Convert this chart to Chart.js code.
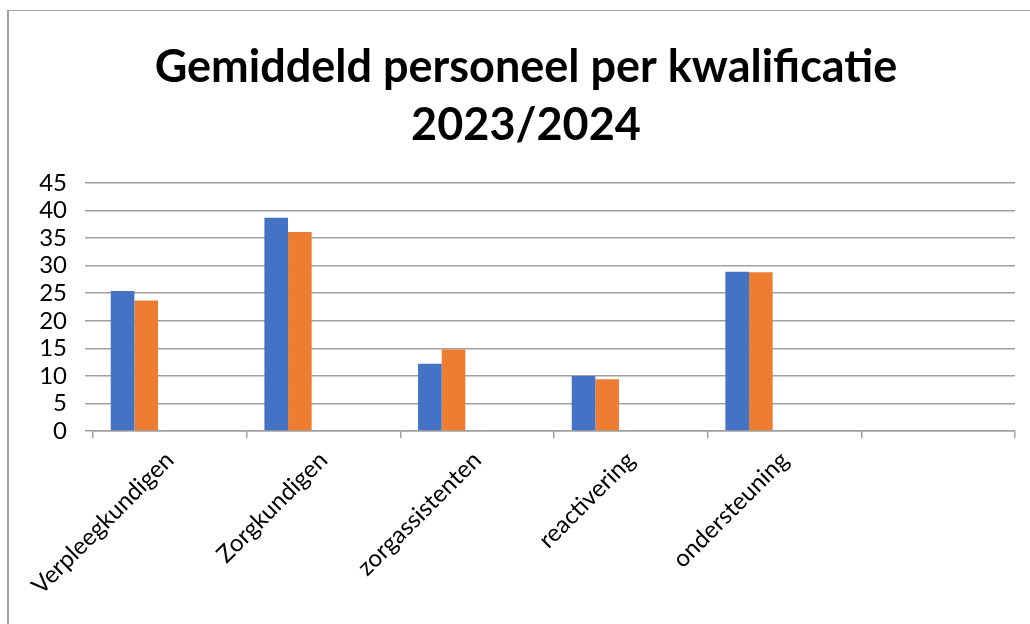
<!DOCTYPE html>
<html>
<head>
<meta charset="utf-8">
<script src="https://cdn.jsdelivr.net/npm/chart.js@4"></script>
<style>
  html, body { margin: 0; padding: 0; background: #fff; overflow: hidden; }
  #frame {
    position: absolute; left: 7px; top: 10px; width: 1100px; height: 700px;
    border-left: 2px solid #a0a0a0; border-top: 1px solid #a0a0a0;
  }
  #wrap { position: absolute; left: 0; top: 0; width: 1030px; height: 624px; }
</style>
</head>
<body>
<div id="frame"></div>
<div id="wrap"><canvas id="chart" width="1030" height="624"></canvas></div>
<script>
var categories = ['Verpleegkundigen', 'Zorgkundigen', 'zorgassistenten', 'reactivering', 'ondersteuning', ''];
var series1 = [25.4, 38.7, 12.2, 10.0, 28.9, null];   // blue
var series2 = [23.7, 36.1, 14.8, 9.4, 28.8, null];    // orange
var emptySeries = [null, null, null, null, null, null]; // unused series in the sheet, keeps the bar spacing
var yMin = 0, yMax = 45, yStep = 5;
var titleLines = ['Gemiddeld personeel per kwalificatie', '2023/2024'];

var fontFamily = 'Lato, "Open Sans", sans-serif';

var ctx = document.getElementById('chart').getContext('2d');
var chart = new Chart(ctx, {
  type: 'bar',
  data: {
    labels: categories,
    datasets: [
      { data: series1, backgroundColor: '#4472C4' },
      { data: series2, backgroundColor: '#ED7D31' },
      { data: emptySeries, backgroundColor: '#A5A5A5' },
      { data: emptySeries, backgroundColor: '#FFC000' },
      { data: emptySeries, backgroundColor: '#5B9BD5' }
    ]
  },
  options: {
    responsive: false,
    animation: false,
    layout: { padding: { left: 37, right: 15, top: 0, bottom: 0 } },
    plugins: {
      legend: { display: false },
      tooltip: { enabled: false },
      title: {
        display: true,
        text: titleLines,
        color: '#000',
        font: { family: fontFamily, size: 45, weight: 'bold', lineHeight: 1.3 },
        padding: { top: 38, bottom: 28 }
      }
    },
    datasets: {
      bar: { categoryPercentage: 5 / 6.5, barPercentage: 1 }
    },
    scales: {
      x: {
        offset: true,
        grid: { offset: true, drawOnChartArea: false, color: '#a0a0a0', lineWidth: 1.5, tickLength: 7 },
        border: { display: true, color: '#a0a0a0', width: 1.5 },
        ticks: {
          color: '#000', font: { family: fontFamily, size: 24 },
          minRotation: 45, maxRotation: 45, autoSkip: false, padding: 8
        },
        afterFit: function (scale) { scale.height = 624 - 431; }
      },
      y: {
        min: yMin, max: yMax,
        grid: { color: '#a0a0a0', lineWidth: 1.5, tickLength: 8 },
        border: { display: false },
        ticks: { stepSize: yStep, autoSkip: false, color: '#000', font: { family: fontFamily, size: 24 }, padding: 18 },
        afterFit: function (scale) { scale.width = 93 - 37; }
      }
    }
  }
});
</script>
</body>
</html>
